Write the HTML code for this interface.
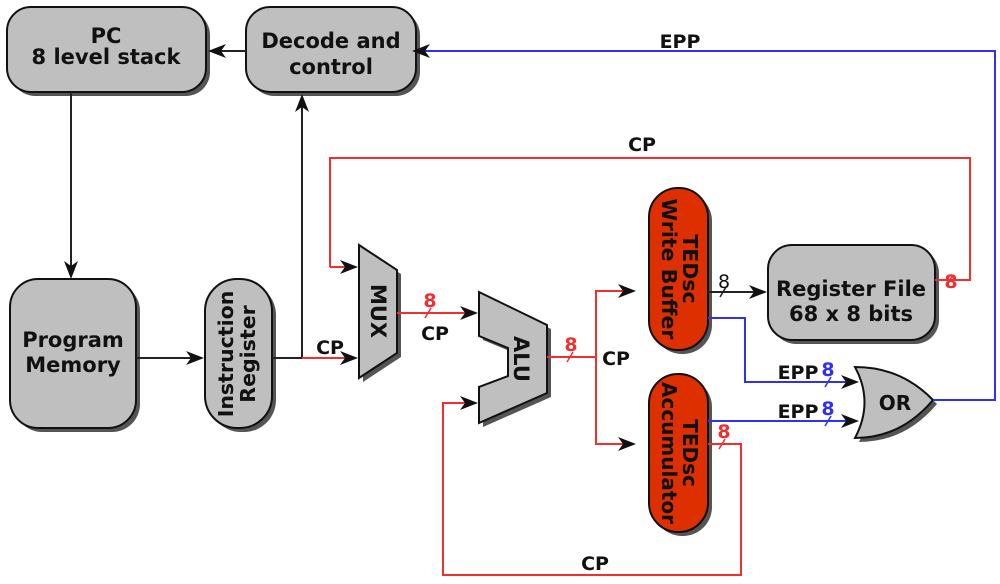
<!DOCTYPE html>
<html><head><meta charset="utf-8"><style>
html,body{margin:0;padding:0;background:#fff;}
svg{display:block;}
text{font-family:"DejaVu Sans","Liberation Sans",sans-serif;font-weight:bold;}
</style></head><body>
<svg width="1000" height="584" viewBox="0 0 1000 584" xmlns="http://www.w3.org/2000/svg">
<g fill="#555">
<rect x="11" y="11" width="199" height="85" rx="24"/>
<rect x="250" y="11" width="170" height="85" rx="24"/>
<rect x="14" y="283" width="126" height="149" rx="28"/>
<rect x="209" y="283" width="67" height="149" rx="32"/>
<rect x="772" y="249" width="167" height="95" rx="24"/>
<rect x="653" y="192" width="59" height="162" rx="29"/>
<rect x="653" y="378" width="59" height="158" rx="29"/>
<polygon points="363,249 401,274 401,357 363,382"/>
<polygon points="483,296 551,329 551,397 483,427 483,391 512,380 512,352 483,340"/>
<path d="M859,371 Q905,371 937,404 Q905,442 859,442 Q878,406 859,371 Z"/>
</g>
<g stroke="#111" stroke-width="2" fill="#bfbfbf">
<rect x="7" y="7" width="199" height="85" rx="24"/>
<rect x="246" y="7" width="170" height="85" rx="24"/>
<rect x="10" y="279" width="126" height="149" rx="28"/>
<rect x="205" y="279" width="67" height="149" rx="32"/>
<rect x="768" y="245" width="167" height="95" rx="24"/>
<polygon points="359,245 397,270 397,353 359,378"/>
<polygon points="479,292 547,325 547,393 479,423 479,387 508,376 508,348 479,336"/>
<path d="M855,367 Q901,367 933,400 Q901,438 855,438 Q874,402 855,367 Z"/>
</g>
<g stroke="#111" stroke-width="2" fill="#dd2f00">
<rect x="649" y="188" width="59" height="162" rx="29"/>
<rect x="649" y="374" width="59" height="158" rx="29"/>
</g>
<g stroke="#222" stroke-width="2" fill="none">
<line x1="246" y1="51" x2="215" y2="51"/>
<line x1="71" y1="92" x2="71" y2="268"/>
<line x1="136" y1="358" x2="195" y2="358"/>
<line x1="272" y1="358" x2="302" y2="358"/>
<line x1="302" y1="358" x2="302" y2="104"/>
<line x1="708" y1="292" x2="757" y2="292"/>
<line x1="720" y1="297" x2="726" y2="287" stroke-width="1.5"/>
</g>
<g stroke="#f03030" stroke-width="2" fill="none">
<line x1="302" y1="358" x2="348" y2="358"/>
<polyline points="330,267 330,158 970,158 970,280 935,280"/>
<line x1="330" y1="267" x2="348" y2="267"/>
<line x1="397" y1="313" x2="468" y2="313"/>
<line x1="547" y1="357" x2="596" y2="357"/>
<polyline points="626,291 596,291 596,444 626,444"/>
<polyline points="708,444 741,444 741,575 443,575 443,403 468,403"/>
<line x1="425" y1="318" x2="431" y2="308" stroke-width="1.5"/>
<line x1="567" y1="362" x2="573" y2="352" stroke-width="1.5"/>
<line x1="947" y1="285" x2="953" y2="275" stroke-width="1.5"/>
<line x1="719" y1="449" x2="725" y2="439" stroke-width="1.5"/>
</g>
<g stroke="#3030f0" stroke-width="2" fill="none">
<polyline points="933,400 995,400 995,51 420,51"/>
<polyline points="708,318 745,318 745,382 848,382"/>
<line x1="708" y1="421" x2="848" y2="421"/>
<line x1="825" y1="387" x2="831" y2="377" stroke-width="1.5"/>
<line x1="825" y1="426" x2="831" y2="416" stroke-width="1.5"/>
</g>
<g fill="#111">
<path d="M208,51 L226,44 L221,51 L226,58 Z"/>
<path d="M71,279 L64,261 L71,266 L78,261 Z"/>
<path d="M204,358 L186,351 L191,358 L186,365 Z"/>
<path d="M302,94 L295,112 L302,107 L309,112 Z"/>
<path d="M767,292 L749,285 L754,292 L749,299 Z"/>
<path d="M358,358 L340,351 L345,358 L340,365 Z"/>
<path d="M358,267 L340,260 L345,267 L340,274 Z"/>
<path d="M478,313 L460,306 L465,313 L460,320 Z"/>
<path d="M478,403 L460,396 L465,403 L460,410 Z"/>
<path d="M636,291 L618,284 L623,291 L618,298 Z"/>
<path d="M636,444 L618,437 L623,444 L618,451 Z"/>
<path d="M412,51 L430,44 L425,51 L430,58 Z"/>
<path d="M859,382 L841,375 L846,382 L841,389 Z"/>
<path d="M859,421 L841,414 L846,421 L841,428 Z"/>
</g>
<g fill="#111" text-anchor="middle">
<text x="106" y="43" style="font-size:21px">PC</text>
<text x="106" y="64" style="font-size:21px">8 level stack</text>
<text x="331" y="48" style="font-size:21px">Decode and</text>
<text x="331" y="74" style="font-size:21px">control</text>
<text x="73" y="347" style="font-size:21px">Program</text>
<text x="73" y="372" style="font-size:21px">Memory</text>
<text x="851" y="296" style="font-size:21px">Register File</text>
<text x="851" y="321" style="font-size:21px">68 x 8 bits</text>
<text x="895" y="410" style="font-size:20px">OR</text>
<text transform="translate(238,354) rotate(-90)" style="font-size:20.5px"><tspan x="0" y="-5">Instruction</tspan><tspan x="0" y="17">Register</tspan></text>
<text transform="translate(378,311) rotate(90)" style="font-size:21px" y="7">MUX</text>
<text transform="translate(521,359) rotate(90)" style="font-size:21px" y="7">ALU</text>
<text transform="translate(679,269) rotate(90)" style="font-size:20.5px"><tspan x="0" y="-4">TEDsc</tspan><tspan x="0" y="17">Write Buffer</tspan></text>
<text transform="translate(679,453) rotate(90)" style="font-size:20px"><tspan x="0" y="-4">TEDsc</tspan><tspan x="0" y="17">Accumulator</tspan></text>
<text x="680" y="48" style="font-size:19px">EPP</text>
<text x="642" y="151" style="font-size:19px">CP</text>
<text x="330" y="354" style="font-size:19px">CP</text>
<text x="435" y="340" style="font-size:19px">CP</text>
<text x="616" y="365" style="font-size:19px">CP</text>
<text x="595" y="570" style="font-size:19px">CP</text>
<text x="798" y="379" style="font-size:19px">EPP</text>
<text x="798" y="418" style="font-size:19px">EPP</text>
<text x="724" y="288" style="font-size:19px;font-weight:normal">8</text>
</g>
<g fill="#f03030" text-anchor="middle" style="font-size:19px">
<text x="430" y="307">8</text>
<text x="571" y="351">8</text>
<text x="951" y="288">8</text>
<text x="724" y="438">8</text>
</g>
<g fill="#3030f0" text-anchor="middle" style="font-size:19px">
<text x="828" y="376">8</text>
<text x="828" y="415">8</text>
</g>
</svg>
</body></html>
